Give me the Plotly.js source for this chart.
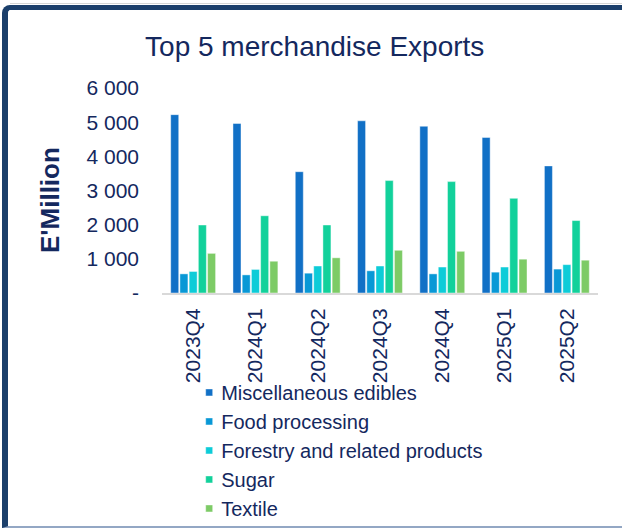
<!DOCTYPE html>
<html>
<head>
<meta charset="utf-8">
<script src="https://cdn.plot.ly/plotly-3.0.1.min.js"></script>
<style>
  html, body { margin: 0; padding: 0; background: #ffffff; }
  #wrap { position: relative; width: 622px; height: 529px; overflow: hidden; }
  #chart { position: absolute; left: 0; top: 0; width: 622px; height: 529px; }
  /* panel frame around the chart */
  #frame {
    position: absolute; left: 2px; top: 5px; width: 640px; height: 523px;
    box-sizing: border-box;
    border-left: 6px solid #1b3f6b;
    border-top: 5px solid #1b3f6b;
    border-bottom: 2px solid #93a7c4;
    border-top-left-radius: 8px;
    pointer-events: none;
  }
  #rule { position: absolute; left: 10px; top: 3px; width: 612px; height: 1px; background: #d6d6d6; }
</style>
</head>
<body>
<div id="wrap">
  <div id="chart"></div>
  <div id="rule"></div>
  <div id="frame"></div>
</div>
<script>
// Quarters on the x axis
const quarters = ['2023Q4', '2024Q1', '2024Q2', '2024Q3', '2024Q4', '2025Q1', '2025Q2'];

// Export values per product group, E'Million
const miscEdibles = [5220, 4960, 3550, 5040, 4880, 4550, 3720];
const foodProcessing = [560, 530, 580, 650, 560, 610, 700];
const forestry = [630, 690, 790, 790, 760, 760, 830];
const sugar = [1990, 2260, 1990, 3290, 3260, 2770, 2120];
const textile = [1160, 930, 1030, 1250, 1220, 990, 960];

const seriesNames = ['Miscellaneous edibles', 'Food processing', 'Forestry and related products', 'Sugar', 'Textile'];
const seriesColors = ['#1170C6', '#0898D6', '#0DCCD8', '#12D19B', '#7DCB66'];

// Y axis ticks
const yTickVals = [0, 1000, 2000, 3000, 4000, 5000, 6000];
const yTickText = ['-', '1 000', '2 000', '3 000', '4 000', '5 000', '6 000'];

const navy = '#14285e';
const font = 'Liberation Sans, Arial, sans-serif';

const seriesValues = [miscEdibles, foodProcessing, forestry, sugar, textile];
const traces = seriesValues.map((vals, i) => ({
  type: 'bar',
  name: seriesNames[i],
  x: quarters,
  y: vals,
  marker: { color: seriesColors[i], line: { color: 'rgba(255,255,255,0.55)', width: 0.8 } },
  hoverinfo: 'x+y+name'
}));

const layout = {
  width: 622,
  height: 529,
  margin: { l: 162, r: 24, t: 88, b: 236, autoexpand: false },
  paper_bgcolor: '#ffffff',
  plot_bgcolor: '#ffffff',
  font: { family: font, color: navy, size: 21 },
  barmode: 'group',
  bargap: 0.26,
  bargroupgap: 0.13,
  showlegend: true,
  title: {
    text: 'Top 5 merchandise Exports',
    font: { family: font, size: 28, color: navy },
    x: 0.506, xanchor: 'center',
    y: 1 - 46 / 529, yanchor: 'middle'
  },
  xaxis: {
    type: 'category',
    automargin: false,
    showline: true, linecolor: '#d9d9d9', linewidth: 2,
    showgrid: false, zeroline: false,
    ticks: '',
    tickangle: -90,
    tickfont: { family: font, size: 21, color: navy },
    ticklabelstandoff: 5
  },
  yaxis: {
    range: [0, 6000],
    automargin: false,
    showline: false, showgrid: false, zeroline: false,
    ticks: '',
    tickvals: yTickVals,
    ticktext: yTickText,
    tickfont: { family: font, size: 21, color: navy },
    ticklabelstandoff: 22
  },
  annotations: [{
    text: "<b>E'Million</b>",
    xref: 'paper', yref: 'paper',
    x: (50 - 162) / 436, y: (293 - 200) / 205,
    xanchor: 'center', yanchor: 'middle',
    textangle: -90,
    showarrow: false,
    font: { family: font, size: 26, color: navy }
  }],
  legend: {
    orientation: 'v',
    x: 0.044, xanchor: 'left',
    y: -0.39, yanchor: 'top',
    font: { family: font, size: 20, color: navy },
    itemwidth: 30,
    bgcolor: 'rgba(0,0,0,0)',
    traceorder: 'normal'
  }
};

Plotly.newPlot('chart', traces, layout, { displayModeBar: false, staticPlot: true }).then(gd => {
  // smaller square swatches in the legend
  gd.querySelectorAll('.legend .legendpoints path').forEach(p => {
    p.setAttribute('d', 'M11.5,3.5H4.5V-3.5H11.5Z');
  });
});
</script>
</body>
</html>
